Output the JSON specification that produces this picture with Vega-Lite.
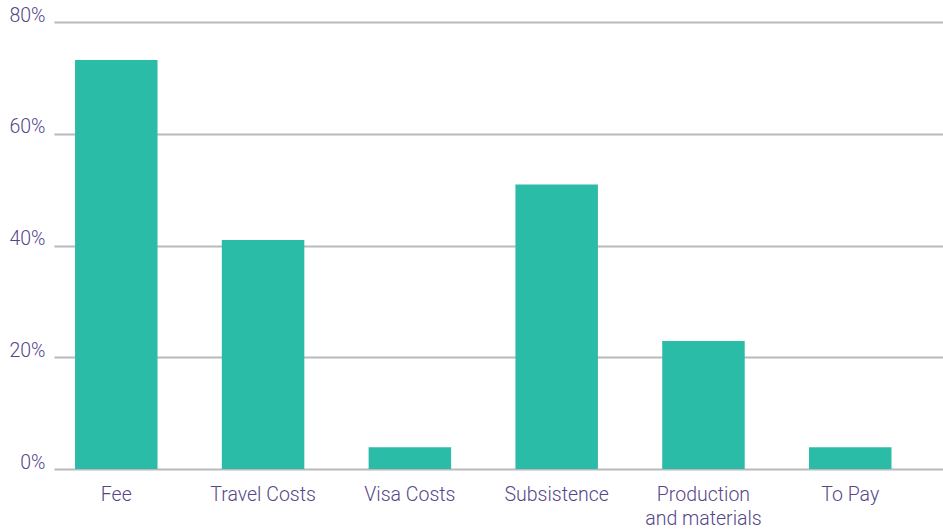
{
  "$schema": "https://vega.github.io/schema/vega-lite/v6.json",
  "width": 889,
  "height": 447,
  "autosize": "none",
  "padding": {"left": 54, "top": 22, "right": 0, "bottom": 62},
  "background": "white",
  "config": {"view": {"stroke": null}},
  "data": {
    "values": [
      {"category": "Fee", "value": 73.2},
      {"category": "Travel Costs", "value": 41},
      {"category": "Visa Costs", "value": 3.9},
      {"category": "Subsistence", "value": 50.9},
      {"category": "Production and materials", "value": 22.9},
      {"category": "To Pay", "value": 3.9}
    ]
  },
  "mark": {"type": "bar", "color": "#2bbca8"},
  "encoding": {
    "x": {
      "field": "category",
      "type": "nominal",
      "sort": null,
      "scale": {"paddingInner": 0.438, "paddingOuter": 0.247, "align": 0.29},
      "axis": {
        "title": null,
        "labelAngle": 0,
        "ticks": false,
        "domain": false,
        "labelPadding": 16,
        "labelFont": "Roboto",
        "labelFontWeight": 300,
        "labelFontSize": 19.5,
        "labelColor": "#564689",
        "labelLineHeight": 24,
        "labelExpr": "datum.value == 'Production and materials' ? ['Production', 'and materials'] : datum.label"
      }
    },
    "y": {
      "field": "value",
      "type": "quantitative",
      "scale": {"domain": [0, 80], "nice": false},
      "axis": {
        "title": null,
        "values": [0, 20, 40, 60, 80],
        "labelExpr": "datum.value + '%'",
        "ticks": false,
        "domain": false,
        "labelPadding": 9,
        "labelBaseline": "alphabetic",
        "labelOffset": -1,
        "labelFont": "Roboto",
        "labelFontWeight": 300,
        "labelFontSize": 19.5,
        "labelColor": "#564689",
        "grid": true,
        "gridColor": "#b9b9bd",
        "gridWidth": 2
      }
    }
  }
}
